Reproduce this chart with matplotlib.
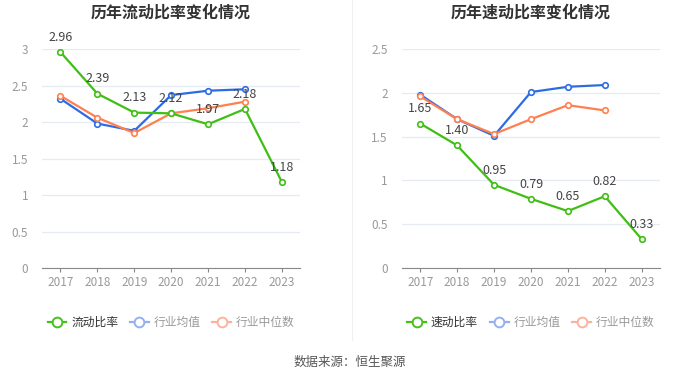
import matplotlib
matplotlib.use("Agg")
import matplotlib.pyplot as plt
from matplotlib.lines import Line2D

plt.rcParams['font.family'] = ['Noto Sans CJK SC', 'DejaVu Sans']

years = ["2017", "2018", "2019", "2020", "2021", "2022", "2023"]

current_ratio = [2.96, 2.39, 2.13, 2.12, 1.97, 2.18, 1.18]
current_mean = [2.32, 1.98, 1.88, 2.37, 2.43, 2.45]
current_median = [2.36, 2.06, 1.85, 2.12, 2.19, 2.28]

quick_ratio = [1.65, 1.40, 0.95, 0.79, 0.65, 0.82, 0.33]
quick_mean = [1.98, 1.70, 1.51, 2.01, 2.07, 2.09]
quick_median = [1.96, 1.70, 1.53, 1.70, 1.86, 1.80]

GREEN = "#3fbf14"
BLUE = "#2d6be4"
ORANGE = "#ff7f50"
GREEN_L = "#46c11c"
BLUE_L = "#93b1f2"
ORANGE_L = "#fbb39c"


def draw_panel(ax, title, main, mean, median, main_name, ymax, yticks):
    x = list(range(len(years)))
    ax.plot(x[:len(mean)], mean, color=BLUE, lw=1.6, marker='o', ms=4,
            mfc='white', mec=BLUE, mew=1.2, zorder=3)
    ax.plot(x[:len(median)], median, color=ORANGE, lw=1.6, marker='o', ms=4,
            mfc='white', mec=ORANGE, mew=1.2, zorder=3)
    ax.plot(x, main, color=GREEN, lw=1.6, marker='o', ms=4,
            mfc='white', mec=GREEN, mew=1.2, zorder=4)
    for xi, v in zip(x, main):
        ax.annotate(f"{v:.2f}", (xi, v), xytext=(0, 6), textcoords='offset points',
                    ha='center', va='bottom', fontsize=9, color='#444444', zorder=5)

    ax.set_xlim(-0.5, len(years) - 0.5)
    ax.set_ylim(0, ymax)
    ax.set_xticks(x)
    ax.set_xticklabels(years)
    ax.set_yticks(yticks)
    ax.set_yticklabels([f"{t:g}" for t in yticks])
    ax.tick_params(axis='y', length=0, labelsize=8.5, labelcolor='#999999', pad=10)
    ax.tick_params(axis='x', length=3, color='#888888', labelsize=8.5,
                   labelcolor='#999999', pad=3)
    ax.grid(axis='y', color='#e6ebf3', lw=0.9)
    ax.set_axisbelow(True)
    for s in ['top', 'right', 'left']:
        ax.spines[s].set_visible(False)
    ax.spines['bottom'].set_color('#888888')
    ax.set_title(title, fontsize=11.5, fontweight='bold', color='#333333', pad=23)

    handles = [
        Line2D([], [], color=GREEN_L, lw=1.6, marker='o', ms=7, mfc='white', mec=GREEN_L, mew=1.4),
        Line2D([], [], color=BLUE_L, lw=1.6, marker='o', ms=7, mfc='white', mec=BLUE_L, mew=1.4),
        Line2D([], [], color=ORANGE_L, lw=1.6, marker='o', ms=7, mfc='white', mec=ORANGE_L, mew=1.4),
    ]
    leg = ax.legend(handles, [main_name, "行业均值", "行业中位数"], loc='center',
                    bbox_to_anchor=(0.5, -0.25), ncol=3, frameon=False, fontsize=8.5,
                    handlelength=1.6, handletextpad=0.4, columnspacing=1.0)
    cols = ['#333333', '#999999', '#999999']
    for t, c in zip(leg.get_texts(), cols):
        t.set_color(c)


fig = plt.figure(figsize=(7, 3.78), dpi=100)
ax1 = fig.add_axes([0.06, 0.291, 0.369, 0.579])
ax2 = fig.add_axes([0.574, 0.291, 0.369, 0.579])

draw_panel(ax1, "历年流动比率变化情况", current_ratio, current_mean, current_median,
           "流动比率", 3, [0, 0.5, 1, 1.5, 2, 2.5, 3])
draw_panel(ax2, "历年速动比率变化情况", quick_ratio, quick_mean, quick_median,
           "速动比率", 2.5, [0, 0.5, 1, 1.5, 2, 2.5])

fig.add_artist(Line2D([0.503, 0.503], [0.1, 1.0], color='#f0f0f0', lw=0.8))
fig.text(0.5, 0.042, "数据来源：恒生聚源", ha='center', va='center', fontsize=9, color='#555555')

fig.savefig("out.png", dpi=100, facecolor='white')
